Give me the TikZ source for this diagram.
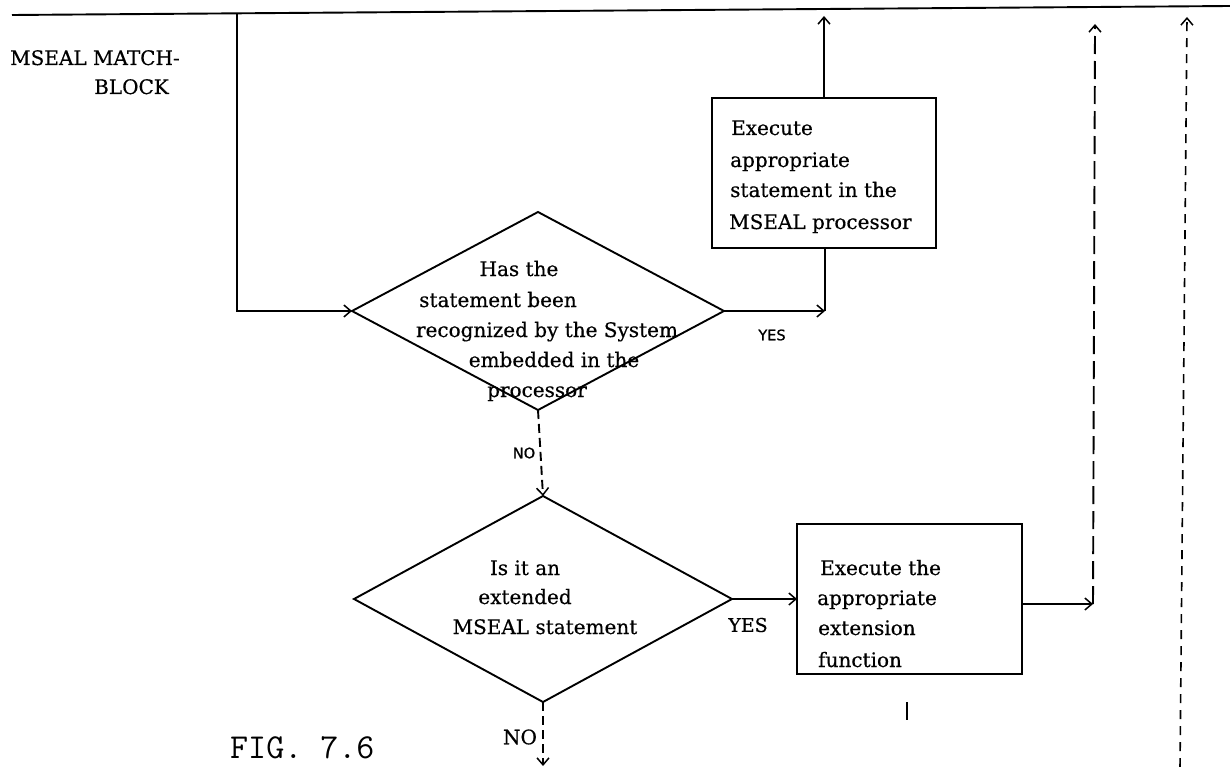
\documentclass[tikz,border=0pt]{standalone}
\usepackage{fontspec}
\setmainfont{DejaVu Serif}[FakeBold=0.5]
\newfontfamily\labelsans{DejaVu Sans}[FakeBold=1]
\usetikzlibrary{shapes.geometric,arrows.meta}
\begin{document}
\begin{tikzpicture}[x=1pt,y=-1pt,
  ln/.style={line width=1.9pt},
  arr/.style={ln,-{Straight Barb[length=7pt,width=12pt,line width=1.5pt]}},
  dshA/.style={dash pattern=on 9pt off 5pt},
  dshB/.style={dash pattern=on 18pt off 7pt},
  dshC/.style={dash pattern=on 9pt off 7pt},
  decision/.style={diamond,draw,line width=1.9pt,inner sep=0pt,outer sep=0pt},
  procbox/.style={rectangle,draw,line width=1.7pt,inner sep=0pt,outer sep=0pt},
  txt/.style={font=\fontsize{20}{30}\selectfont,inner sep=0pt},
  smalllab/.style={font=\labelsans\fontsize{14.5}{16}\selectfont,inner sep=0pt},
  serlab/.style={font=\fontsize{19}{22}\selectfont,inner sep=0pt}
]
\useasboundingbox (0,0) rectangle (1230,767);

% top line
\coordinate (tl) at (12,15);
\coordinate (tr) at (1230,6);
\draw[ln] (tl) -- (tr);

% shapes
\node[decision, minimum width=372pt, minimum height=198pt] (d1) at (538,311) {};
\node[decision, minimum width=378pt, minimum height=206pt] (d2) at (543,599) {};
\node[procbox, minimum width=224pt, minimum height=150pt] (b1) at (824,173) {};
\node[procbox, minimum width=225pt, minimum height=150pt] (b2) at (909.5,599) {};

% left label
\node[txt, anchor=base west] (lab1) at (10,65) {MSEAL MATCH-};
\node[txt, anchor=base west] (lab2) at (94,94) {BLOCK};

% diamond 1 text
\node[txt, anchor=base] (d1a) at (519,276) {Has the};
\node[txt, anchor=base] (d1b) at (498,307) {statement been};
\node[txt, anchor=base] (d1c) at (547,337) {recognized by the System};
\node[txt, anchor=base] (d1d) at (554,367) {embedded in the};
\node[txt, anchor=base] (d1e) at (537,397) {processor};

% diamond 2 text
\node[txt, anchor=base] (d2a) at (525,575) {Is it an};
\node[txt, anchor=base] (d2b) at (525,604) {extended};
\node[txt, anchor=base] (d2c) at (545,634) {MSEAL statement};

% box 1 text
\node[txt, anchor=base west] (b1a) at (731,135) {Execute};
\node[txt, anchor=base west] (b1b) at (730,167) {appropriate};
\node[txt, anchor=base west] (b1c) at (730,197) {statement in the};
\node[txt, anchor=base west] (b1d) at (729,229) {MSEAL processor};

% box 2 text
\node[txt, anchor=base west] (b2a) at (820,575) {Execute the};
\node[txt, anchor=base west] (b2b) at (817,605) {appropriate};
\node[txt, anchor=base west] (b2c) at (818,635) {extension};
\node[txt, anchor=base west] (b2d) at (818,667) {function};

% connectors
\coordinate (s0) at (237,14);
\draw[arr] (s0) |- (d1.west);

\coordinate (j1) at (825,311);
\draw[arr] (d1.east) -- (j1);
\draw[ln] (j1) -- (j1 |- b1.south);
\node[smalllab] (yes1) at (772,335) {YES};

\coordinate (t1) at (828,16);
\draw[arr] (b1.north) -- (b1.north |- t1);

\draw[arr, dshA] (d1.south) -- (d2.north);
\node[smalllab] (no1) at (524,453) {NO};

\draw[arr] (d2.east) -- (b2.west);
\node[serlab] (yes2) at (748,625) {YES};

\coordinate (k1) at (1093,604);
\coordinate (k2) at (1095,24);
\draw[arr] (b2.east |- k1) -- (k1);
\draw[arr, dshB] (k1) -- (k2);

\coordinate (m1) at (1180,767);
\coordinate (m2) at (1187,17);
\draw[arr, dshC, line width=1.6pt] (m1) -- (m2);

\coordinate (e2) at (543,766);
\draw[arr, dshA] (d2.south) -- (e2);
\node[serlab, font=\fontsize{20}{22}\selectfont] (no2) at (520,737) {NO};

\coordinate (q1) at (907,702);
\coordinate (q2) at (907,720);
\draw[line width=1.1pt] (q1) -- (q2);

% caption
\node[font=\ttfamily\fontsize{35}{38}\selectfont, anchor=base west, inner sep=0pt] (fig) at (230,758) {FIG. 7.6};
\end{tikzpicture}
\end{document}
